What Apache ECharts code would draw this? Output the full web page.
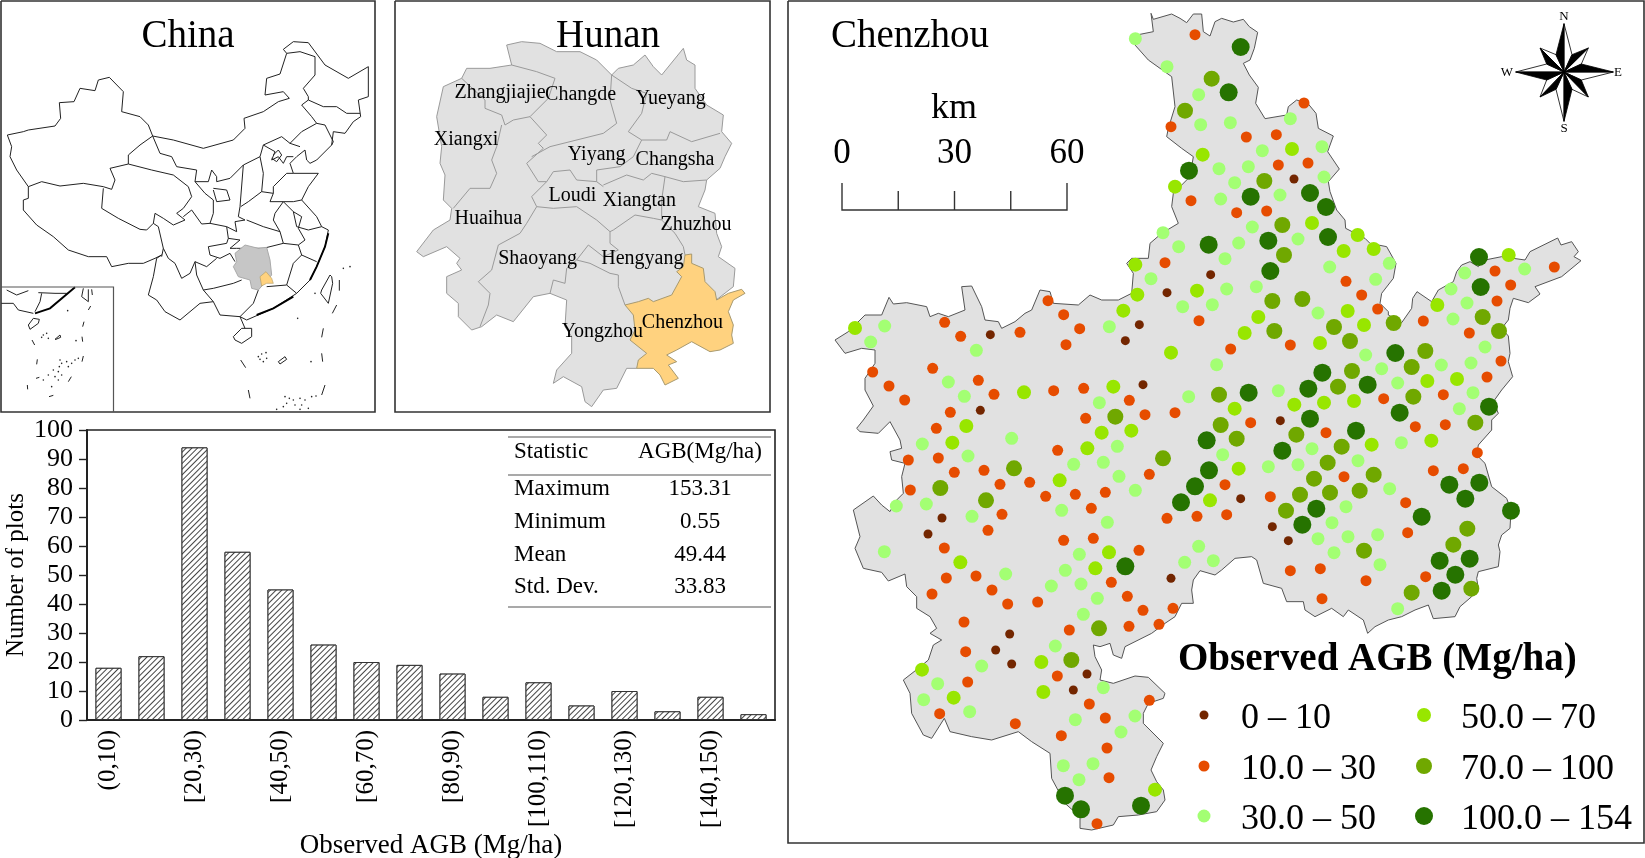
<!DOCTYPE html>
<html><head><meta charset="utf-8"><style>html,body{margin:0;padding:0;background:#fff}#c{width:1645px;height:858px}</style>
<script src="https://cdn.jsdelivr.net/npm/echarts@6/dist/echarts.min.js"></script></head><body><div id="c"></div>
<script>
// ---------- histogram ----------
const binLabels=['(0,10)','[10,20)','[20,30)','[30,40)','[40,50)','[50,60)','[60,70)','[70,80)','[80,90)','[90,100)','[100,110)','[110,120)','[120,130)','[130,140)','[140,150)','[150,160)'];
const binCounts=[18,22,94,58,45,26,20,19,16,8,13,5,10,3,8,2];
const statNames=['Maximum','Minimum','Mean','Std. Dev.'];
const statValues=['153.31','0.55','49.44','33.83'];
const classNames=['0 \u2013 10','10.0 \u2013 30','30.0 \u2013 50','50.0 \u2013 70','70.0 \u2013 100','100.0 \u2013 154'];
// ---------- survey plots, [x, y, class] in sheet units (1/3 px), one list per map sheet ----------
const plotsNW=[[1051,116,2],[1230,104,1],[1146,200,2],[1280,236,4],[1241,284,2],[1200,332,4],[1247,374,2],[1158,380,1],[1253,464,3],[1212,512,5],[1170,560,3],[1218,602,1],[1134,698,2],[1181,740,2],[1271,734,5],[1140,788,1],[1051,794,3],[1098,836,2],[1277,824,0],[1146,878,0],[1236,872,3],[1057,884,3],[1193,920,2],[1282,914,2],[1015,932,3],[1242,962,1],[973,980,2],[1063,974,0],[1021,1022,0],[1158,1058,3],[836,944,1],[789,902,1],[884,986,1],[843,1034,1],[705,997,1],[616,1004,0],[479,967,1],[527,1009,1],[574,1051,2],[299,978,2],[210,984,3],[257,1026,2],[263,1116,1],[312,1158,1],[359,1200,1],[443,1105,1],[490,1146,2],[538,1189,2],[580,1141,1],[627,1183,1],[717,1177,3],[806,1172,1],[896,1165,1],[985,1160,3],[1074,1154,0],[943,1208,2],[1033,1201,1],[991,1250,4],[902,1255,1],[1080,1244,1],[1170,1238,1],[1211,1190,2],[496,1237,1],[586,1231,0],[454,1285,1],[544,1278,3],[950,1298,3],[1039,1292,3]];
const plotsNE=[[77,141,5],[41,277,5],[46,368,2],[94,411,1],[184,404,1],[226,356,2],[267,309,1],[142,452,2],[231,447,3],[321,440,2],[12,506,2],[100,500,2],[190,495,1],[279,489,1],[59,548,2],[148,543,4],[237,537,0],[327,531,2],[17,597,2],[107,590,5],[195,585,2],[285,579,5],[65,638,1],[155,633,1],[333,621,5],[112,681,2],[202,675,4],[291,669,3],[71,729,2],[160,722,5],[249,717,2],[339,711,5],[428,705,3],[30,776,2],[207,765,4],[386,753,3],[476,747,3],[523,790,2],[166,813,5],[344,801,2],[35,867,2],[124,860,2],[393,844,1],[482,838,2],[172,903,4],[262,897,4],[440,885,1],[130,951,3],[309,939,2],[398,933,3],[488,927,1],[89,999,3],[178,993,4],[357,981,4],[447,975,3],[536,969,4],[47,1047,1],[226,1035,1],[315,1029,3],[405,1023,4],[5,1094,2],[452,1065,2],[322,1118,5],[411,1113,4],[541,1059,5],[631,1053,4],[500,1106,2],[590,1101,4],[679,1095,2],[768,1089,2],[858,1083,1],[12,1184,4],[101,1178,5],[190,1172,2],[280,1166,5],[369,1160,4],[458,1154,5],[548,1149,2],[637,1143,3],[726,1137,3],[816,1131,1],[59,1226,3],[238,1214,3],[327,1208,3],[417,1203,3],[506,1196,1],[595,1190,4],[685,1184,1],[774,1178,2],[17,1275,4],[107,1268,1],[196,1262,0],[285,1256,5],[554,1238,5],[733,1226,2],[822,1220,5],[601,1280,1],[691,1274,1],[781,1268,4],[792,771,5],[881,765,3],[840,813,1],[929,807,2],[1018,801,1],[749,819,2],[708,867,2],[797,861,5],[887,855,1],[667,915,3],[756,909,2],[846,903,1],[714,957,2],[803,951,4],[625,963,1],[763,999,1],[852,993,4],[810,1041,2]];
const plotsSE=[[423,32,5],[333,38,1],[244,44,4],[65,56,4],[380,80,4],[470,74,3],[559,68,2],[649,62,3],[291,86,2],[202,92,5],[23,104,2],[787,98,1],[338,128,4],[429,122,2],[160,140,2],[249,134,2],[71,146,3],[655,152,1],[745,146,1],[387,170,1],[297,176,4],[476,164,4],[703,194,5],[793,188,5],[30,194,1],[524,206,2],[434,212,4],[345,218,4],[255,224,4],[166,230,1],[77,236,0],[751,236,5],[572,248,1],[393,260,2],[304,266,5],[213,272,4],[888,272,5],[35,284,1],[620,290,5],[351,308,2],[262,314,5],[172,320,0],[757,326,4],[578,338,1],[488,344,2],[399,350,2],[309,356,2],[220,362,0],[715,374,4],[447,392,4],[357,398,2],[764,416,5],[674,422,5],[495,434,2],[316,446,1],[226,452,1],[721,464,5],[632,470,1],[453,482,1],[769,506,4],[680,512,5],[590,518,4],[321,536,1],[548,566,2]];
const plotsSW=[[680,55,2],[412,72,2],[502,68,3],[370,120,1],[460,114,1],[549,108,2],[818,91,1],[907,85,3],[997,79,2],[1265,61,5],[597,151,1],[508,157,1],[687,145,4],[866,133,2],[955,127,2],[1134,115,4],[1272,151,5],[645,193,1],[734,187,1],[824,181,3],[1002,169,2],[1093,163,1],[376,210,1],[466,204,4],[782,229,1],[871,223,1],[961,217,1],[1051,211,2],[1230,199,5],[1188,247,5],[1275,241,3],[334,258,2],[424,252,2],[603,241,4],[830,271,2],[919,265,1],[561,289,2],[651,283,1],[471,294,0],[967,307,2],[1146,295,1],[1236,289,1],[429,342,0],[609,331,1],[836,361,1],[925,355,1],[478,384,1],[298,395,2],[883,403,2],[972,397,3],[1062,391,1],[1241,379,2],[526,427,3],[1021,439,5],[841,451,2],[931,445,3],[1199,427,2],[1285,422,2],[662,462,2],[484,474,1],[573,468,1],[799,498,2],[888,492,2],[979,487,1],[1158,475,0],[621,510,1],[441,522,1],[937,535,2],[1027,529,1],[758,546,1],[668,552,1],[1074,571,1],[1164,565,1],[895,583,2],[537,606,1],[853,630,1],[942,625,4],[1032,619,1],[1122,613,1],[674,642,0],[811,678,2],[632,690,0],[542,695,1],[859,720,4],[769,726,3],[680,732,0],[590,738,2],[411,749,3],[817,768,1],[906,762,0],[548,786,1],[458,791,2],[955,803,2],[865,810,0],[775,816,3],[506,833,3],[416,839,2],[1093,841,1],[913,852,1],[554,875,2],[464,881,1],[1050,888,2],[961,894,1],[871,899,2],[691,911,1],[1008,936,2],[829,947,1],[966,984,1],[924,1031,2],[835,1037,2],[972,1073,1],[882,1079,2],[1110,1109,3],[840,1127,5],[888,1168,5],[1068,1157,5],[936,1211,1]];
// ---------- Chenzhou outline, clockwise, by sheet ----------
const rimNW1=[[1098,40],[1105,58],[1160,42],[1185,55],[1205,68],[1225,42],[1250,42],[1255,95],[1275,108]];
const rimNE=[[0,65],[20,55],[55,66],[85,58],[103,80],[128,97],[118,145],[105,180],[85,190],[103,225],[130,262],[122,310],[150,356],[215,345],[220,320],[245,300],[280,312],[303,340],[310,385],[355,408],[338,455],[373,507],[340,545],[345,575],[365,630],[390,660],[392,685],[450,715],[465,730],[515,740],[543,790],[535,835],[500,880],[495,910],[520,935],[520,945],[560,968],[590,925],[593,895],[606,875],[650,905],[670,870],[715,845],[725,815],[740,795],[765,785],[790,800],[810,780],[860,770],[930,780],[945,755],[1028,714],[1038,735],[1070,725],[1090,755],[1077,770],[1098,782],[1040,830],[960,860],[975,882],[940,908],[895,895],[885,925],[880,960],[860,985],[880,1008],[885,1060],[880,1085],[893,1130],[860,1170],[835,1205],[850,1240],[830,1260]];
const rimSE=[[830,30],[790,75],[785,105],[810,130],[830,200],[875,235],[888,272],[885,325],[860,345],[850,375],[855,395],[850,440],[790,455],[785,475],[790,505],[770,530],[735,560],[720,590],[655,596],[640,555],[600,570],[560,590],[520,600],[480,620],[458,640],[445,600],[400,570],[385,590],[350,565],[300,590],[270,570],[265,545],[215,545],[200,505],[145,490],[125,420],[110,410],[60,415],[20,450],[0,465]];
const rimSW=[[1245,452],[1225,480],[1220,510],[1225,550],[1190,550],[1170,590],[1140,610],[1100,640],[1020,680],[1010,715],[985,705],[975,670],[945,680],[925,675],[930,710],[950,750],[945,780],[985,790],[1050,768],[1090,772],[1140,820],[1135,835],[1090,850],[1075,880],[1075,910],[1135,970],[1115,1010],[1098,1050],[1115,1085],[1135,1110],[1140,1140],[1115,1175],[1060,1185],[1000,1190],[985,1215],[920,1230],[885,1225],[885,1190],[840,1150],[800,1075],[795,1000],[740,965],[700,935],[620,960],[560,950],[495,935],[478,895],[440,955],[415,945],[380,880],[375,820],[355,780],[400,745],[430,720],[445,675],[470,660],[435,640],[455,625],[435,590],[395,565],[395,530],[365,500],[360,462],[310,483],[290,457],[235,445],[210,385],[225,350],[205,270],[265,228],[290,255],[315,275],[330,245],[355,220],[350,170],[360,130],[320,120],[315,95],[350,85],[345,60],[315,5],[280,40],[225,35],[215,25],[235,0]];
const rimNW2=[[265,1218],[240,1170],[240,1135],[270,1090],[270,1050],[230,1045],[180,1060],[150,1020],[190,995],[240,945],[290,945],[312,892],[325,912],[365,908],[425,920],[435,950],[460,940],[490,950],[540,930],[530,860],[560,858],[590,920],[600,960],[640,965],[650,985],[690,965],[720,940],[740,930],[765,870],[795,875],[805,910],[880,915],[915,885],[950,900],[1000,900],[1040,880],[1045,820],[1025,790],[1040,775],[1090,775],[1095,730],[1130,700],[1180,670],[1160,620],[1165,580],[1215,530],[1225,470],[1190,445],[1145,410],[1150,385],[1170,320],[1160,230],[1090,180],[1050,135],[1055,105],[1105,95]];
// ---------- Hunan sheet ----------
const hunanRim=[[350,135],[395,125],[450,130],[500,155],[570,155],[620,180],[665,225],[685,205],[730,195],[765,165],[790,200],[815,225],[880,145],[890,180],[915,195],[915,265],[950,315],[1000,345],[995,395],[1025,430],[1005,470],[990,505],[950,540],[945,570],[925,620],[975,640],[980,700],[995,740],[985,770],[1035,805],[1030,860],[985,895],[900,950],[800,1050],[740,1105],[710,1105],[680,1165],[640,1170],[605,1220],[585,1205],[575,1160],[520,1130],[490,1150],[500,1110],[545,1060],[545,1010],[525,980],[530,900],[480,880],[430,890],[370,965],[320,945],[275,980],[245,990],[205,950],[205,910],[170,880],[170,830],[215,810],[200,790],[210,775],[170,740],[100,770],[80,755],[130,690],[180,660],[185,625],[160,600],[165,525],[150,490],[155,440],[140,350],[160,260],[215,235],[230,205],[300,205],[365,195]];
const chenzhouRim=[[885,765],[905,762],[905,790],[940,805],[945,845],[975,875],[980,900],[1015,880],[1055,868],[1065,880],[1030,900],[1015,935],[1030,975],[1025,1005],[1030,1030],[990,1050],[960,1055],[905,1025],[860,1050],[830,1065],[860,1085],[835,1095],[865,1135],[825,1155],[810,1125],[790,1105],[740,1105],[745,1080],[770,1060],[720,1020],[735,990],[730,945],[705,915],[745,905],[775,895],[790,905],[845,885],[875,830],[860,815],[880,800]];
const hunanBorders=[[[190,625],[240,565],[300,565],[320,520],[305,480],[320,440],[335,375]],[[215,235],[285,300],[285,325],[335,345],[345,375],[370,360],[420,350],[475,295],[495,235],[440,215],[365,195]],[[420,350],[470,405],[445,430],[460,445],[410,490]],[[665,225],[660,300],[680,370],[640,400],[540,425],[480,440],[425,470]],[[410,490],[445,545],[470,545],[425,590],[440,620],[410,670],[390,700],[325,735],[305,810],[265,845],[300,880],[295,915],[270,980]],[[440,620],[490,625],[560,620],[620,660],[660,695]],[[470,545],[490,515],[540,510],[560,540],[620,545],[640,560]],[[620,545],[620,510],[690,500],[730,470],[755,420]],[[665,225],[725,265],[770,280],[755,340],[715,395],[755,420],[830,420],[840,395],[905,425],[990,400]],[[640,555],[710,525],[760,540],[785,520],[825,530],[880,545],[950,540]],[[825,530],[815,600],[815,660],[790,655],[735,645],[670,690],[660,695],[660,730],[685,750],[640,770],[595,735],[560,780],[600,790],[660,820],[685,825],[685,860],[705,915]],[[815,660],[855,700],[880,740],[885,765]],[[560,780],[530,805],[525,850],[490,840],[480,880]]];
const hunanCities=[['Zhangjiajie',330,275],['Changde',572,283],['Yueyang',842,295],['Xiangxi',228,418],['Yiyang',620,462],['Changsha',855,478],['Loudi',547,585],['Xiangtan',748,600],['Huaihua',295,653],['Zhuzhou',918,672],['Shaoyang',443,773],['Hengyang',757,773],['Chenzhou',877,965],['Yongzhou',637,992]];
// ---------- China sheet ----------
const chinaBorders=[
[[22,405],[70,395],[85,390],[165,378],[182,355],[178,308],[222,305],[240,265],[285,272],[295,240],[328,232],[370,275],[365,335],[420,350],[445,375],[458,408],[520,420],[610,445],[700,420],[735,385],[732,355],[790,335],[835,305],[868,295],[850,275],[795,285],[800,235],[840,222],[860,160],[850,148],[880,125],[925,128],[975,195],[1045,235],[1105,200],[1105,290],[1075,300],[1082,350],[1060,365],[1035,400],[1000,395],[995,435],[950,480],[930,490],[920,480],[915,450],[890,470],[870,490],[880,520],[955,520],[925,560],[905,600],[950,650],[965,680],[985,690],[975,740],[950,800],[930,840],[890,880],[820,925],[740,960],[720,950],[660,945],[640,905],[600,910],[540,960],[495,935],[470,900],[445,885],[460,830],[470,775],[485,765],[465,775],[430,790],[385,790],[335,800],[320,770],[265,770],[205,750],[160,710],[110,675],[70,630],[70,600],[85,595],[85,560],[50,510],[30,470],[35,440],[22,405]],
[[85,560],[125,545],[180,558],[250,550],[310,560],[335,568],[345,540],[330,505],[385,492],[385,465],[420,435],[458,408]],
[[310,565],[305,625],[355,655],[420,688],[440,690],[460,670],[475,680],[490,745],[485,770]],
[[385,492],[455,510],[520,525],[565,560],[575,590],[550,625],[530,640],[555,660],[520,675],[490,655],[465,640],[460,670]],
[[458,408],[480,460],[515,470],[530,500],[590,510],[585,545],[615,580],[640,600],[640,640],[630,670],[605,672],[575,630],[550,650]],
[[585,545],[625,545],[635,510],[650,530],[650,545],[690,535],[730,495],[780,470],[790,435],[845,410],[870,430],[900,440]],
[[640,565],[680,570],[690,600],[650,605],[640,570]],
[[730,495],[720,620],[715,650],[735,660],[705,665],[710,695],[680,680],[630,670]],
[[780,470],[790,520],[785,575],[745,605],[722,620]],
[[785,575],[820,580],[810,605],[850,605],[825,640],[820,660],[840,695],[790,680],[740,660]],
[[820,580],[820,560],[860,520],[880,520]],
[[790,435],[825,455],[815,480],[835,470],[850,490],[860,470],[880,470]],
[[820,465],[835,450],[845,465],[830,485],[815,475]],
[[870,430],[905,395],[950,370],[975,375],[1000,425],[995,435]],
[[905,315],[925,300],[970,320],[1010,320],[1040,340],[1080,340]],
[[905,315],[935,350],[950,370]],
[[860,160],[900,155],[945,170],[945,225],[910,265],[925,290],[925,300]],
[[850,605],[880,605],[905,600]],
[[850,605],[880,635],[890,680],[925,690],[965,680]],
[[880,635],[905,650],[895,685],[915,720],[895,735],[850,730],[840,695]],
[[680,680],[685,715],[720,720],[690,745],[710,745],[790,745],[850,730]],
[[685,715],[680,730],[625,740],[630,765],[660,775],[690,760],[705,785]],
[[490,745],[505,775],[525,790],[545,835],[570,820],[585,785],[620,800],[650,775]],
[[585,785],[590,825],[610,870],[640,865],[700,850],[725,840]],
[[775,870],[760,910],[720,950]],
[[800,860],[860,855],[890,880]],
[[895,735],[905,765],[880,790],[860,855]],
[[905,765],[950,785]],
[[610,870],[640,905]],
[[700,1010],[725,985],[755,985],[755,1010],[725,1030],[705,1020],[700,1010]],
[[720,950],[735,985]],
[[995,830],[990,825],[965,870],[962,880],[985,910],[998,850],[995,830]],
[[1018,840],[1018,872]],[[997,940],[1010,915]],[[970,985],[965,1012]],[[965,1060],[968,1085]],[[745,1170],[750,1195]],[[975,1155],[965,1185]],[[722,1080],[737,1103]],
[[835,1085],[855,1070],[860,1078],[840,1092],[835,1085]],
// inset
[[20,870],[50,885],[85,872]],[[115,878],[165,880],[200,880]],[[3,910],[40,910],[55,930],[100,940]],[[125,880],[120,905],[105,935]],
[[85,975],[100,955],[118,958],[115,970],[90,988],[85,975]],[[250,865],[245,890],[265,905],[265,868]],[[275,868],[277,885]],[[265,930],[272,918]],[[252,965],[248,980]],[[96,1020],[104,1035]],[[246,1010],[248,1025]],[[112,1078],[110,1093]],[[250,1068],[246,1085]],[[214,1130],[205,1145]],[[82,1155],[83,1168]],[[165,1018],[180,1005],[182,1012],[168,1018],[165,1018]],[[147,1190],[160,1186]],[[108,1135],[118,1132]]
];
const chinaCoast=[[[985,700],[975,740],[950,800],[930,840]],[[880,890],[820,925],[770,945]],[[225,862],[150,925],[105,940]]];
const chinaHunan=[[705,760],[735,735],[775,745],[800,742],[810,780],[815,825],[775,870],[755,865],[750,840],[715,830],[700,800],[710,785]];
const chinaChenzhou=[[798,815],[815,835],[820,850],[800,850],[785,858],[780,830]];
const islandDots=[[893,955],[933,1085],[775,1070],[785,1062],[798,1058],[780,1078],[800,1075],[790,1085],[855,1190],[868,1195],[860,1210],[880,1200],[900,1195],[915,1200],[935,1190],[948,1188],[885,1215],[905,1215],[925,1225],[850,1220],[830,1228],[900,1228],[155,1160],[203,932],[130,1005],[140,1000],[145,1015],[125,1012],[228,1022],[180,1080],[185,1090],[178,1100],[200,1085],[215,1090],[205,1100],[225,1080],[235,1075],[160,1110],[175,1115],[145,1125],[165,1130],[185,1125],[175,1140],[130,1140],[945,880],[1030,805],[1050,800]];
// ---------- scale bar / compass ----------
const scaleKm=[0,15,30,45,60];
const scaleLabels=[0,30,60];
const compassRays=[[[0,-145],[-24,-52],[24,-52]],[[73,-72],[24,-52],[52,-24]],[[148,0],[52,-24],[52,24]],[[73,75],[52,24],[24,52]],[[0,148],[24,52],[-24,52]],[[-72,75],[-24,52],[-52,24]],[[-145,0],[-52,24],[-52,-24]],[[-72,-72],[-52,-24],[-24,-52]]];

// ---------- styling ----------
const SERIF='"Liberation Serif","Times New Roman",serif';
const classColors=['#732600','#e64c00','#a3ff73','#98e600','#70a800','#267300'];
const classSizes=[9,11,13,14,16,18];
const sheet=(ox,oy,p)=>p.map(q=>[ox+q[0]/3,oy+q[1]/3].concat(q.slice(2)));
const NW=p=>sheet(785,0,p),NE=p=>sheet(1215,0,p),SE=p=>sheet(1215,420,p),SW=p=>sheet(785,420,p);
const CN=p=>sheet(0,0,p),HN=p=>sheet(390,0,p);
const plots=[...NW(plotsNW),...NE(plotsNE),...SE(plotsSE),...SW(plotsSW)];
const rim=[...NW(rimNW1),...NE(rimNE),...SE(rimSE),...SW(rimSW),...NW(rimNW2)];

function shapes(name,list,closed,style,z){
  return {type:'custom',name,xAxisIndex:0,yAxisIndex:0,z,silent:true,clip:false,
    data:list.map((s,i)=>[i,0]),encode:{x:0,y:1},
    renderItem:(p,api)=>({type:closed?'polygon':'polyline',
      shape:{points:list[p.dataIndex].map(q=>api.coord(q))},style:closed?style:Object.assign({fill:null},style)})};
}
const series=[];
const frames=[[[1,1],[375,1],[375,412],[1,412],[1,1]],[[395,1],[770,1],[770,412],[395,412],[395,1]],[[788,1],[1644,1],[1644,843],[788,843],[788,1]]];
series.push(shapes('frames',frames,false,{stroke:'#333',lineWidth:1.6},30));
series.push(shapes('inset',[[[1,287],[113.5,287],[113.5,412]]],false,{stroke:'#555',lineWidth:1.2},30));
series.push(shapes('China',chinaBorders.map(CN),false,{stroke:'#222',lineWidth:1},5));
series.push(shapes('coast',chinaCoast.map(CN),false,{stroke:'#000',lineWidth:1.9},5));
series.push(shapes('cnHunan',[CN(chinaHunan)],true,{fill:'#c6c6c6',stroke:'#aaa',lineWidth:1},6));
series.push(shapes('cnChenzhou',[CN(chinaChenzhou)],true,{fill:'#ffd27f',stroke:'#b09a60',lineWidth:.6},7));
series.push({type:'scatter',name:'islands',xAxisIndex:0,yAxisIndex:0,silent:true,symbolSize:1.6,itemStyle:{color:'#222',opacity:1},data:CN(islandDots)});
series.push(shapes('Hunan',[HN(hunanRim)],true,{fill:'#e1e1e1',stroke:'#9a9a9a',lineWidth:1},5));
series.push(shapes('HunanBorders',hunanBorders.map(HN),false,{stroke:'#9a9a9a',lineWidth:1},6));
series.push(shapes('HunanChenzhou',[HN(chenzhouRim)],true,{fill:'#ffd27f',stroke:'#a89a70',lineWidth:1},7));
series.push(shapes('Chenzhou',[rim],true,{fill:'#e1e1e1',stroke:'#555',lineWidth:1},5));
classNames.forEach((n,c)=>{
  series.push({type:'scatter',name:n,xAxisIndex:0,yAxisIndex:0,silent:true,z:10,symbolSize:classSizes[c],
    itemStyle:{color:classColors[c],opacity:1},data:plots.filter(p=>p[2]===c).map(p=>[p[0],p[1]])});
});
// legend keys
const legendKeyAt=[[1204,715],[1204,766],[1204,816],[1424,715],[1424,766],[1424,816]];
legendKeyAt.forEach((k,c)=>series.push({type:'scatter',name:'key'+c,xAxisIndex:0,yAxisIndex:0,silent:true,z:10,symbolSize:classSizes[c],itemStyle:{color:classColors[c],opacity:1},data:[k]}));
// scale bar
const barX=v=>842+v*225/60;
series.push(shapes('scalebar',[[[barX(0),183],[barX(0),210],[barX(60),210],[barX(60),183]],...scaleKm.slice(1,4).map(v=>[[barX(v),191],[barX(v),210]])],false,{stroke:'#333',lineWidth:1.4},12));
// compass
const cz=(p)=>[1564+p[0]/3,72+p[1]/3];
series.push(shapes('compassWhite',compassRays.map(r=>[cz(r[0]),cz(r[2]),cz([0,0])]),true,{fill:'#fff',stroke:'#000',lineWidth:.8},12));
series.push(shapes('compassBlack',compassRays.map(r=>[cz(r[0]),cz(r[1]),cz([0,0])]),true,{fill:'#000',stroke:'#000',lineWidth:.8},13));
// histogram
series.push({type:'bar',name:'plots',xAxisIndex:1,yAxisIndex:1,data:binCounts,barWidth:26,silent:true,z:4,
  itemStyle:{color:'#fff',borderColor:'#333',borderWidth:1,
    decal:{symbol:'rect',symbolSize:1,color:'#444',backgroundColor:'#fff',dashArrayX:[1,0],dashArrayY:[1,3],rotation:-Math.PI/4}}});
// table rules
series.push(shapes('rules',[[[508,437],[771,437]],[[508,475],[771,475]],[[508,607],[771,607]]],false,{stroke:'#555',lineWidth:1.2},12));

// y is the baseline; the text box is placed by its top
const txt=(t,x,y,size,align,weight)=>({type:'text',silent:true,z:50,style:{text:String(t),x,y:y-0.76*size,fill:'#000',font:(weight||'normal')+' '+size+'px '+SERIF,textAlign:align||'center'}});
const g=[
 txt('China',188,47,39),txt('Hunan',608,47,39),txt('Chenzhou',910,47,39),
 txt('km',954,118,36),
 txt('N',1564,20,13),txt('E',1618,76,13),txt('S',1564,132,13),txt('W',1507,76,13),
 txt('Observed AGB (Mg/ha)',1178,670,39,'left','bold'),
 txt('Statistic',514,458,23,'left'),txt('AGB(Mg/ha)',700,458,23),
];
scaleLabels.forEach(v=>g.push(txt(v,barX(v),163,35)));
[495,528,561,593].forEach((y,i)=>{g.push(txt(statNames[i],514,y,23,'left'));g.push(txt(statValues[i],700,y,23));});
hunanCities.forEach(c=>g.push(txt(c[0],390+c[1]/3,c[2]/3+6,20)));
legendKeyAt.forEach((k,c)=>g.push(txt(classNames[c],c<3?1241:1461,k[1]+13,36,'left')));

const chart=echarts.init(document.getElementById('c'),null,{renderer:'canvas'});
chart.setOption({animation:false,backgroundColor:'#fff',
 grid:[{left:0,top:0,width:1645,height:858,show:false,outerBoundsMode:'none'},
       {left:87,top:430,width:688,height:290,show:true,borderColor:'#222',borderWidth:1.6,backgroundColor:'transparent',outerBoundsMode:'none'}],
 xAxis:[{type:'value',min:0,max:1645,show:false,gridIndex:0},
  {type:'category',gridIndex:1,data:binLabels,boundaryGap:true,
   name:'Observed AGB (Mg/ha)',nameLocation:'middle',nameGap:112,nameTextStyle:{fontFamily:SERIF,fontSize:27,color:'#000'},
   axisLine:{lineStyle:{color:'#222',width:2}},
   axisTick:{interval:1,alignWithLabel:true,length:6,lineStyle:{color:'#222',width:1.4}},
   axisLabel:{interval:1,rotate:90,fontFamily:SERIF,fontSize:25,color:'#000',margin:10}}],
 yAxis:[{type:'value',min:0,max:858,inverse:true,show:false,gridIndex:0},
  {type:'value',gridIndex:1,min:0,max:100,interval:10,
   name:'Number of plots',nameLocation:'middle',nameGap:58,nameTextStyle:{fontFamily:SERIF,fontSize:25,color:'#000'},
   splitLine:{show:false},axisLine:{show:true,lineStyle:{color:'#222',width:2}},
   axisTick:{show:true,length:8,lineStyle:{color:'#222',width:1.4}},
   axisLabel:{fontFamily:SERIF,fontSize:26,color:'#000',margin:14}}],
 series,graphic:g});
</script></body></html>
